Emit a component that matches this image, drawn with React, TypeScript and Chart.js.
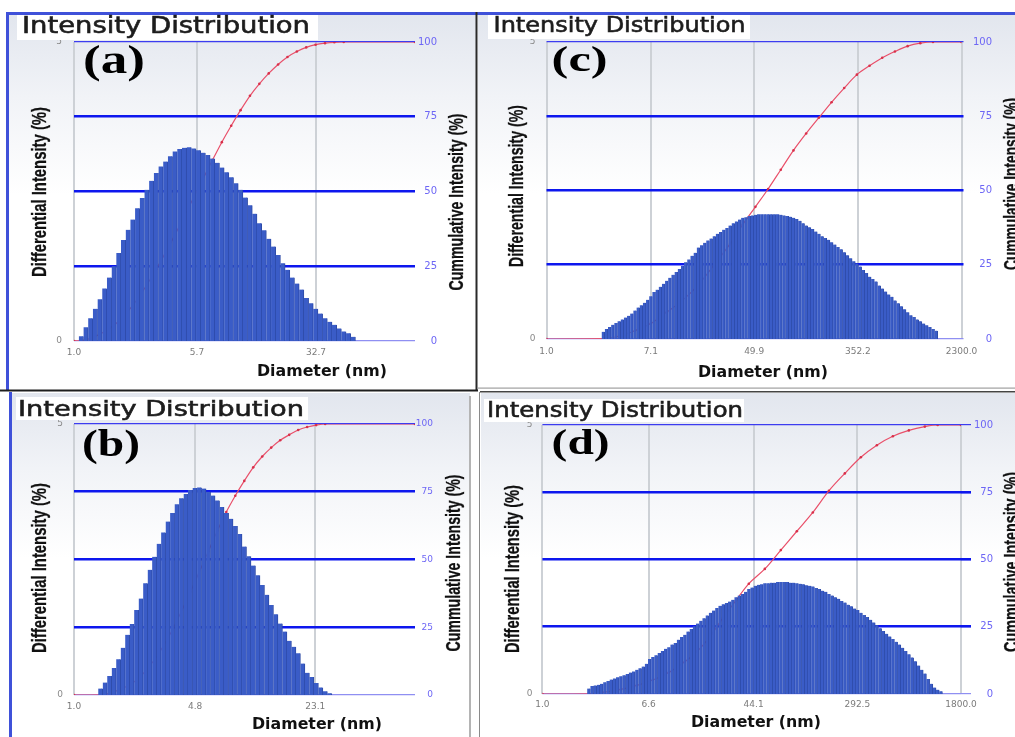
import React, { useEffect, useRef } from "react";
import { Chart, registerables } from "chart.js";

Chart.register(...registerables);

// ---------------- data ----------------
// Differential intensity (%) per size bin (bin index = position on log axis)
const diffA = [
  0.08, 0.23, 0.38, 0.54, 0.70, 0.88, 1.06, 1.25, 1.47, 1.69,
  1.86, 2.03, 2.22, 2.39, 2.53, 2.68, 2.81, 2.92, 3.00, 3.09,
  3.17, 3.21, 3.23, 3.24, 3.22, 3.19, 3.15, 3.11, 3.05, 2.98,
  2.90, 2.82, 2.74, 2.64, 2.53, 2.40, 2.27, 2.13, 1.97, 1.85,
  1.71, 1.58, 1.44, 1.30, 1.19, 1.06, 0.96, 0.86, 0.72, 0.63,
  0.54, 0.46, 0.38, 0.32, 0.27, 0.21, 0.16, 0.13, 0.07,
];
const cumBinA = [-1.53, 0, 4, 8, 12, 16, 20, 24, 28, 30, 32, 34, 36, 38, 40, 42, 44, 46, 48, 50, 52, 54, 56, 71.2];
const cumA = [0, 0.1, 2.3, 6.6, 14, 24, 35.5, 48, 60.5, 66.5, 72, 77.2, 82, 86, 89.5, 92.5, 95, 96.8, 98.2, 99.1, 99.6, 99.9, 100, 100];
const tickBinA = [-1.53, 24.7, 50.1];
const tickLabelA = ["1.0", "5.7", "32.7"];
const xRangeA = [-1.53, 71.2];

const diffB = [
  0.12, 0.23, 0.35, 0.50, 0.66, 0.87, 1.11, 1.31, 1.57, 1.78,
  2.06, 2.31, 2.55, 2.79, 3.00, 3.20, 3.36, 3.52, 3.63, 3.71,
  3.78, 3.82, 3.83, 3.81, 3.75, 3.68, 3.59, 3.47, 3.36, 3.25,
  3.12, 2.97, 2.74, 2.56, 2.39, 2.21, 2.03, 1.85, 1.66, 1.49,
  1.32, 1.17, 1.00, 0.89, 0.77, 0.58, 0.41, 0.33, 0.22, 0.14,
  0.07, 0.03,
];
const cumBinB = [-5.9, 0, 4, 8, 12, 16, 20, 24, 26, 28, 30, 32, 34, 36, 38, 40, 42, 44, 46, 48, 50, 70];
const cumB = [0, 0.1, 1.8, 5.5, 13, 24, 38, 53, 60.5, 67.5, 73.5, 79, 84, 88, 91.3, 94, 96, 97.8, 98.9, 99.6, 100, 100];
const tickBinB = [-5.9, 21.05, 47.8];
const tickLabelB = ["1.0", "4.8", "23.1"];
const xRangeB = [-5.9, 70.0];

const diffC = [
  0.12, 0.17, 0.20, 0.24, 0.27, 0.30, 0.33, 0.36, 0.39, 0.43,
  0.48, 0.53, 0.57, 0.61, 0.66, 0.72, 0.79, 0.83, 0.88, 0.93,
  0.98, 1.03, 1.08, 1.13, 1.18, 1.23, 1.29, 1.34, 1.40, 1.45,
  1.54, 1.58, 1.62, 1.66, 1.69, 1.73, 1.77, 1.80, 1.84, 1.87,
  1.91, 1.95, 1.98, 2.01, 2.04, 2.05, 2.07, 2.08, 2.09, 2.10,
  2.10, 2.10, 2.10, 2.10, 2.10, 2.10, 2.09, 2.08, 2.07, 2.06,
  2.04, 2.02, 1.99, 1.95, 1.91, 1.88, 1.85, 1.81, 1.77, 1.73,
  1.70, 1.67, 1.63, 1.59, 1.55, 1.51, 1.46, 1.41, 1.36, 1.31,
  1.27, 1.22, 1.16, 1.11, 1.05, 1.01, 0.97, 0.90, 0.85, 0.80,
  0.75, 0.71, 0.65, 0.60, 0.55, 0.50, 0.45, 0.40, 0.37, 0.33,
  0.30, 0.26, 0.23, 0.20, 0.17, 0.14,
];
const cumBinC = [-17.9, 0, 5, 10, 15, 20, 25, 30, 35, 40, 44, 48, 52, 56, 60, 64, 68, 72, 76, 80, 84, 88, 92, 96, 100, 104, 113.0];
const cumC = [0, 0.1, 1, 2.8, 5.2, 9, 13, 18.2, 25, 32, 38.5, 44.5, 50.5, 57, 63.5, 69.2, 74.5, 79.7, 84.5, 89, 92, 94.7, 96.8, 98.6, 99.6, 100, 100];
const tickBinC = [-17.9, 15.0, 47.6, 80.3, 113.0];
const tickLabelC = ["1.0", "7.1", "49.9", "352.2", "2300.0"];
const xRangeC = [-17.9, 113.0];

const diffD = [
  0.10, 0.15, 0.16, 0.17, 0.19, 0.22, 0.24, 0.27, 0.29, 0.31,
  0.33, 0.35, 0.37, 0.40, 0.42, 0.45, 0.48, 0.51, 0.56, 0.65,
  0.69, 0.72, 0.76, 0.80, 0.84, 0.87, 0.92, 0.95, 1.01, 1.06,
  1.10, 1.16, 1.21, 1.26, 1.31, 1.36, 1.41, 1.46, 1.51, 1.55,
  1.60, 1.64, 1.67, 1.69, 1.72, 1.75, 1.80, 1.83, 1.86, 1.90,
  1.95, 1.98, 2.01, 2.03, 2.04, 2.06, 2.06, 2.07, 2.07, 2.08,
  2.08, 2.08, 2.08, 2.07, 2.07, 2.06, 2.05, 2.04, 2.02, 2.01,
  2.00, 1.97, 1.95, 1.92, 1.90, 1.86, 1.83, 1.80, 1.77, 1.73,
  1.70, 1.66, 1.63, 1.59, 1.56, 1.51, 1.47, 1.43, 1.38, 1.33,
  1.28, 1.22, 1.17, 1.12, 1.07, 1.02, 0.97, 0.92, 0.86, 0.80,
  0.74, 0.68, 0.61, 0.53, 0.45, 0.38, 0.28, 0.19, 0.12, 0.08,
  0.05,
];
const cumBinD = [-14.5, 0, 5, 10, 15, 20, 25, 30, 34, 38, 42, 46, 50, 55, 60, 65, 70, 75, 80, 85, 90, 95, 100, 105, 109, 116.3];
const cumD = [0, 0.1, 0.7, 1.7, 3.2, 5.2, 8, 12, 16, 21.5, 28.5, 34.8, 41, 46.5, 53.5, 60.5, 67.5, 75.5, 82, 88, 92.5, 95.8, 98, 99.4, 100, 100];
const tickBinD = [-14.5, 18.7, 51.5, 83.9, 116.3];
const tickLabelD = ["1.0", "6.6", "44.1", "292.5", "1800.0"];
const xRangeD = [-14.5, 116.3];

const leftTicks = [0, 5];
const rightTicks = [0, 25, 50, 75, 100];

const panelTitle = "Intensity Distribution";
const xTitle = "Diameter (nm)";
const yTitle = "Differential Intensity (%)";
const y2Title = "Cummulative Intensity (%)";

// ---------------- layout ----------------
type Box = { left: number; top: number; width: number; height: number };
type Plot = { left: number; right: number; top: number; bottom: number };
interface PanelCfg {
  key: string;
  tag: string;
  diff: number[];
  cumBin: number[];
  cum: number[];
  tickBin: number[];
  tickLabel: string[];
  xRange: number[];
  canvas: Box;
  plot: Plot;
  rEdge: number;
  rTick: number;
  rFont: number;
  lPad: number;
  xPad: number;
  title: { x: number; y: number; size: number; len: number; box: number[] };
  label: { x: number; y: number; size: number; len: number };
  xt: { cx: number; y: number };
  yt: { cx: number; cy: number; len: number };
  y2t: { cx: number; cy: number; len: number };
}

const panels: PanelCfg[] = [
  {
    key: "a", tag: "(a)", diff: diffA, cumBin: cumBinA, cum: cumA, tickBin: tickBinA, tickLabel: tickLabelA, xRange: xRangeA,
    canvas: { left: 10, top: 15, width: 466, height: 375 },
    plot: { left: 74, right: 415, top: 42, bottom: 341 },
    rEdge: 437, rTick: 0, rFont: 10, lPad: 12, xPad: 6.6,
    title: { x: 22, y: 33, size: 23, len: 288, box: [17, 15, 301, 25] },
    label: { x: 83, y: 73, size: 40, len: 62 },
    xt: { cx: 322, y: 376 },
    yt: { cx: 38, cy: 192, len: 170 },
    y2t: { cx: 455, cy: 202, len: 177 },
  },
  {
    key: "c", tag: "(c)", diff: diffC, cumBin: cumBinC, cum: cumC, tickBin: tickBinC, tickLabel: tickLabelC, xRange: xRangeC,
    canvas: { left: 480, top: 15, width: 535, height: 373 },
    plot: { left: 546.5, right: 961.5, top: 42, bottom: 339 },
    rEdge: 992, rTick: 2, rFont: 10, lPad: 11, xPad: 7.6,
    title: { x: 493.6, y: 32, size: 21.5, len: 252, box: [488, 15, 262, 24] },
    label: { x: 551.6, y: 70.5, size: 35, len: 56 },
    xt: { cx: 763, y: 377 },
    yt: { cx: 515, cy: 186, len: 162 },
    y2t: { cx: 1010, cy: 184, len: 172 },
  },
  {
    key: "b", tag: "(b)", diff: diffB, cumBin: cumBinB, cum: cumB, tickBin: tickBinB, tickLabel: tickLabelB, xRange: xRangeB,
    canvas: { left: 12, top: 394, width: 458, height: 343 },
    plot: { left: 74, right: 415, top: 424, bottom: 695 },
    rEdge: 433, rTick: 0, rFont: 9, lPad: 11, xPad: 6.3,
    title: { x: 18, y: 416, size: 22, len: 286, box: [16, 397, 292, 23] },
    label: { x: 82, y: 456, size: 38, len: 58 },
    xt: { cx: 317, y: 729 },
    yt: { cx: 38, cy: 568, len: 170 },
    y2t: { cx: 452, cy: 563, len: 177 },
  },
  {
    key: "d", tag: "(d)", diff: diffD, cumBin: cumBinD, cum: cumD, tickBin: tickBinD, tickLabel: tickLabelD, xRange: xRangeD,
    canvas: { left: 481, top: 394, width: 534, height: 343 },
    plot: { left: 542.4, right: 961, top: 425, bottom: 694 },
    rEdge: 993, rTick: 10, rFont: 10, lPad: 10, xPad: 5.6,
    title: { x: 487, y: 417, size: 21, len: 256, box: [484, 399, 260, 23] },
    label: { x: 551.6, y: 454, size: 35, len: 58 },
    xt: { cx: 756, y: 727 },
    yt: { cx: 511, cy: 569, len: 168 },
    y2t: { cx: 1010, cy: 562, len: 180 },
  },
];

const bgBoxes = [
  { left: 9, top: 15, width: 467, height: 375 },
  { left: 478, top: 15, width: 537, height: 373 },
  { left: 12, top: 393, width: 458, height: 344 },
  { left: 481, top: 393, width: 534, height: 344 },
];

Chart.defaults.font.family = "'DejaVu Sans', sans-serif";

function PanelChart({ cfg }: { cfg: PanelCfg }) {
  const ref = useRef<HTMLCanvasElement | null>(null);
  const c = cfg.canvas;
  const p = cfg.plot;
  useEffect(() => {
    const cv = ref.current;
    if (!cv) return;
    const chart = new Chart(cv, {
      type: "bar",
      data: {
        datasets: [
          {
            type: "line",
            data: cfg.cumBin.map((x, i) => ({ x, y: cfg.cum[i] })),
            xAxisID: "x",
            yAxisID: "y2",
            borderColor: "#e9506a",
            borderWidth: 1.2,
            pointRadius: 1.3,
            pointBackgroundColor: "#d8304a",
            pointBorderWidth: 0,
            cubicInterpolationMode: "monotone",
            order: 2,
          } as any,
          {
            type: "bar",
            data: cfg.diff.map((y, i) => ({ x: i, y })),
            xAxisID: "x",
            yAxisID: "y",
            backgroundColor: "#3a5cc7",
            borderColor: "#2d4aa6",
            borderWidth: { top: 0, right: 1, bottom: 0, left: 0 },
            barPercentage: 1,
            categoryPercentage: 1,
            order: 1,
          } as any,
        ],
      },
      options: {
        animation: false,
        responsive: false,
        maintainAspectRatio: false,
        devicePixelRatio: 1,
        layout: {
          padding: { top: p.top - c.top, left: 0, right: c.left + c.width - cfg.rEdge, bottom: 0 },
        },
        plugins: { legend: { display: false }, tooltip: { enabled: false } },
        scales: {
          x: {
            type: "linear",
            min: cfg.xRange[0],
            max: cfg.xRange[1],
            offset: false,
            z: 1,
            afterBuildTicks: (s: any) => {
              s.ticks = cfg.tickBin.map((v) => ({ value: v }));
            },
            afterFit: (s: any) => {
              s.height = c.top + c.height - p.bottom;
            },
            grid: { color: "#cdd1d6", lineWidth: 2, drawTicks: false, offset: false },
            border: { display: false },
            ticks: {
              autoSkip: false,
              maxRotation: 0,
              minRotation: 0,
              padding: cfg.xPad,
              color: "#7b7b7b",
              font: { size: 9 },
              callback: (_v: any, i: number) => cfg.tickLabel[i] ?? "",
            },
          },
          y: {
            position: "left",
            min: 0,
            max: 5,
            afterBuildTicks: (s: any) => {
              s.ticks = leftTicks.map((v) => ({ value: v }));
            },
            afterFit: (s: any) => {
              s.width = p.left - c.left;
            },
            grid: { display: false, drawTicks: false },
            border: { display: false },
            ticks: { padding: cfg.lPad, color: "#8a8a8a", font: { size: 9 } },
          },
          y2: {
            position: "right",
            min: 0,
            max: 100,
            afterBuildTicks: (s: any) => {
              s.ticks = rightTicks.map((v) => ({ value: v }));
            },
            afterFit: (s: any) => {
              s.width = cfg.rEdge - p.right;
            },
            grid: {
              drawTicks: cfg.rTick > 0,
              tickLength: cfg.rTick,
              color: (ctx: any) => {
                const v = ctx.tick ? ctx.tick.value : 50;
                return v === 0 ? "#8f8ff2" : v === 100 ? "#3c3cf0" : "#0d17ee";
              },
              lineWidth: (ctx: any) => {
                const v = ctx.tick ? ctx.tick.value : 50;
                return v === 0 || v === 100 ? 1.2 : 2.6;
              },
            },
            border: { display: false },
            ticks: {
              autoSkip: false,
              crossAlign: "far",
              padding: 2,
              color: "#6d66f5",
              font: { size: cfg.rFont },
            },
          },
        },
      } as any,
    });
    return () => chart.destroy();
  }, [cfg]);
  return (
    <canvas
      ref={ref}
      width={c.width}
      height={c.height}
      style={{ position: "absolute", left: c.left, top: c.top, width: c.width, height: c.height }}
    />
  );
}

function Overlay() {
  const blue = "#3f51d9";
  const narrow = "'Liberation Sans Narrow', 'Arial Narrow', 'Liberation Sans', Arial, sans-serif";
  return (
    <svg
      width={1015}
      height={737}
      style={{ position: "absolute", left: 0, top: 0, overflow: "hidden", pointerEvents: "none" }}
    >
      {/* frame lines */}
      <rect x={7} y={12} width={1008} height={3} fill={blue} />
      <rect x={6} y={12} width={3} height={378} fill={blue} />
      <rect x={475.5} y={12} width={2} height={378} fill="#2a2a2a" />
      <rect x={0} y={389.5} width={478} height={2} fill="#1e1e1e" />
      <rect x={478} y={387.5} width={537} height={1.2} fill="#a0a0a0" />
      <rect x={480} y={391} width={535} height={1.5} fill="#444" />
      <rect x={9} y={392} width={3} height={345} fill={blue} />
      <rect x={469} y={396} width={2} height={341} fill="#b4b4b4" />
      <rect x={479} y={392} width={1} height={345} fill="#8a8a8a" />

      {panels.map((p) => (
        <g key={p.key}>
          <rect x={p.title.box[0]} y={p.title.box[1]} width={p.title.box[2]} height={p.title.box[3]} fill="#ffffff" />
          <text
            x={p.title.x}
            y={p.title.y}
            fontFamily="'DejaVu Sans', sans-serif"
            fontSize={p.title.size}
            fill="#1d1d1d"
            stroke="#1d1d1d"
            strokeWidth={0.6}
            textLength={p.title.len}
            lengthAdjust="spacingAndGlyphs"
          >
            {panelTitle}
          </text>
          <text
            x={p.label.x}
            y={p.label.y}
            fontFamily="'Liberation Serif', 'Times New Roman', serif"
            fontWeight="bold"
            fontSize={p.label.size}
            fill="#000"
            textLength={p.label.len}
            lengthAdjust="spacingAndGlyphs"
          >
            {p.tag}
          </text>
          <text
            x={p.xt.cx}
            y={p.xt.y}
            textAnchor="middle"
            fontFamily="'DejaVu Sans', sans-serif"
            fontWeight="bold"
            fontSize={16}
            fill="#111"
            textLength={130}
            lengthAdjust="spacingAndGlyphs"
          >
            {xTitle}
          </text>
          <text
            transform={`translate(${p.yt.cx},${p.yt.cy}) rotate(-90)`}
            x={0}
            y={0}
            textAnchor="middle"
            dominantBaseline="central"
            fontFamily={narrow}
            fontWeight="bold"
            fontSize={21}
            fill="#111"
            stroke="#111"
            strokeWidth={0.3}
            textLength={p.yt.len}
            lengthAdjust="spacingAndGlyphs"
          >
            {yTitle}
          </text>
          <text
            transform={`translate(${p.y2t.cx},${p.y2t.cy}) rotate(-90)`}
            x={0}
            y={0}
            textAnchor="middle"
            dominantBaseline="central"
            fontFamily={narrow}
            fontWeight="bold"
            fontSize={21}
            fill="#111"
            stroke="#111"
            strokeWidth={0.3}
            textLength={p.y2t.len}
            lengthAdjust="spacingAndGlyphs"
          >
            {y2Title}
          </text>
        </g>
      ))}
    </svg>
  );
}

export default function App() {
  return (
    <div
      style={{
        position: "absolute",
        left: 0,
        top: 0,
        width: 1015,
        height: 737,
        overflow: "hidden",
        background: "#ffffff",
      }}
    >
      {bgBoxes.map((b, i) => (
        <div
          key={i}
          style={{
            position: "absolute",
            left: b.left,
            top: b.top,
            width: b.width,
            height: b.height,
            background: "linear-gradient(180deg, #e2e6ee 0%, #f1f3f7 22%, #ffffff 48%)",
          }}
        />
      ))}
      {panels.map((p) => (
        <PanelChart key={p.key} cfg={p} />
      ))}
      <Overlay />
    </div>
  );
}
